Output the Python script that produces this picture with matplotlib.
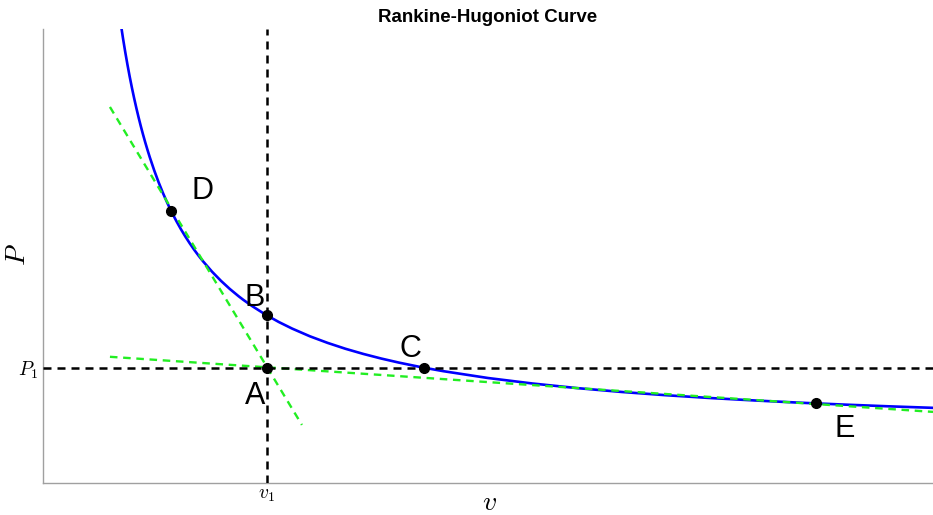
import matplotlib
matplotlib.use("Agg")
import matplotlib.pyplot as plt

plt.rcParams['font.family'] = ['Liberation Sans', 'DejaVu Sans']
plt.rcParams['mathtext.fontset'] = 'cm'

# Hugoniot curve samples (v, P)
curve_v = [0.85, 0.875, 0.9, 0.925, 0.95, 0.975, 1.0, 1.025, 1.05, 1.075, 1.1, 1.125,
           1.15, 1.175, 1.2, 1.25, 1.3, 1.35, 1.4, 1.45, 1.5, 1.55, 1.6, 1.65, 1.7,
           1.75, 1.8, 1.9, 2.0, 2.1, 2.2, 2.25, 2.35, 2.5, 2.65, 2.8, 3.0, 3.2, 3.4,
           3.6, 3.8, 4.0, 4.25, 4.5, 5.0, 5.5, 6.0, 6.5, 7.0, 7.5, 8.0, 8.5, 9.0,
           9.5, 10.0]
curve_p = [10.455, 10.109, 9.788, 9.488, 9.209, 8.947, 8.702, 8.471, 8.254, 8.049,
           7.855, 7.672, 7.498, 7.334, 7.177, 6.886, 6.621, 6.379, 6.157, 5.953, 5.765,
           5.590, 5.428, 5.277, 5.135, 5.003, 4.880, 4.654, 4.453, 4.273, 4.111, 4.036,
           3.897, 3.710, 3.546, 3.401, 3.231, 3.085, 2.956, 2.843, 2.742, 2.652, 2.551,
           2.463, 2.313, 2.192, 2.091, 2.006, 1.934, 1.872, 1.818, 1.770, 1.728, 1.690,
           1.656]

# Rayleigh lines (endpoints)
ray1_v = [0.753, 2.91]
ray1_p = [8.28, 1.28]
ray2_v = [0.753, 10.0]
ray2_p = [2.78, 1.567]

v1 = 2.517
P1 = 2.54

point_names = ['A', 'B', 'C', 'D', 'E']
point_v = [2.517, 2.517, 4.28, 1.438, 8.685]
point_p = [2.54, 3.69, 2.54, 6.00, 1.766]
label_v = [2.382, 2.382, 4.124, 1.798, 9.011]
label_p = [1.92, 4.08, 2.96, 6.44, 1.19]

fig = plt.figure(figsize=(9.33, 5.15), dpi=100)
ax = fig.add_axes([0.046, 0.062, 0.954, 0.882])
ax.set_xlim(0, 10)
ax.set_ylim(0, 10)

dash = (0, (3.2, 2.4))
ax.plot(curve_v, curve_p, color='#0000ff', lw=1.9, zorder=2)
ax.plot(ray1_v, ray1_p, color='#22ee22', lw=1.7, ls=dash, zorder=3)
ax.plot(ray2_v, ray2_p, color='#22ee22', lw=1.7, ls=dash, zorder=3)
ax.axhline(P1, color='black', lw=1.8, ls=dash, zorder=3)
ax.axvline(v1, color='black', lw=1.8, ls=dash, zorder=3)

ax.plot(point_v, point_p, 'o', color='black', ms=7, zorder=5, linestyle='none')
for name, lx, ly in zip(point_names, label_v, label_p):
    ax.text(lx, ly, name, fontsize=22, ha='center', va='center', zorder=6)

ax.set_xticks([v1])
ax.set_xticklabels(['$v_1$'], fontsize=14)
ax.set_yticks([P1])
ax.set_yticklabels(['$P_1$'], fontsize=14)
ax.tick_params(length=0, pad=3)

ax.set_xlabel('$v$', fontsize=20, va='center')
ax.set_ylabel('$P$', fontsize=20, va='center')
ax.xaxis.set_label_coords(0.502, -0.044)
ax.yaxis.set_label_coords(-0.028, 0.502)
ax.set_title('Rankine-Hugoniot Curve', fontsize=13.5, fontweight='bold', pad=5)

for s in ['top', 'right']:
    ax.spines[s].set_visible(False)
for s in ['left', 'bottom']:
    ax.spines[s].set_color('#a0a0a0')
    ax.spines[s].set_linewidth(1.0)

fig.savefig('out.png', dpi=100)
